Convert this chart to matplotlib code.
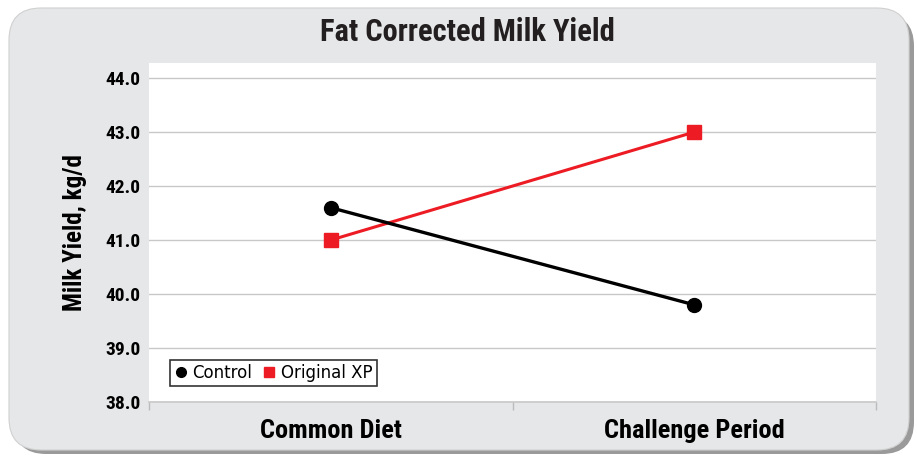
import matplotlib
matplotlib.use("Agg")
import matplotlib.pyplot as plt
from matplotlib.patches import FancyBboxPatch
from matplotlib.lines import Line2D

categories = ["Common Diet", "Challenge Period"]
control = [41.6, 39.8]
original_xp = [41.0, 43.0]
yticks = [38.0, 39.0, 40.0, 41.0, 42.0, 43.0, 44.0]

FONT = ["Liberation Sans Narrow", "Roboto Condensed", "DejaVu Sans"]
plt.rcParams['font.family'] = FONT

fig = plt.figure(figsize=(9.17, 4.58), dpi=100)
fig.patch.set_facecolor("white")

W, H = 917, 458
# shadow
sh = FancyBboxPatch((14 / W, 4 / H), 900 / W, 440 / H,
                    boxstyle="round,pad=0,rounding_size=0.035",
                    transform=fig.transFigure, facecolor="#9a9a9a", edgecolor="none",
                    zorder=0, mutation_aspect=W / H)
fig.patches.append(sh)
box = FancyBboxPatch((9 / W, 8 / H), 900 / W, 442 / H,
                     boxstyle="round,pad=0,rounding_size=0.035",
                     transform=fig.transFigure, facecolor="#e6e7e8", edgecolor="#d0d0d0",
                     linewidth=0.8, zorder=1, mutation_aspect=W / H)
fig.patches.append(box)

ax = fig.add_axes([149 / W, 56 / H, 727 / W, 339 / H])
ax.set_facecolor("white")
ax.set_zorder(2)

x = list(range(len(categories)))
ax.plot(x, original_xp, color="#ed1c24", lw=2.2, marker="s", ms=10, zorder=3,
        label="Original XP")
ax.plot(x, control, color="black", lw=2.4, marker="o", ms=10, zorder=4,
        label="Control")

ax.set_xlim(-0.5, 1.5)
ax.set_ylim(38, 44.28)
ax.set_yticks(yticks)
ax.set_yticklabels([f"{v:.1f}" for v in yticks], fontsize=14, fontweight="bold",
                   fontstretch="condensed")
ax.yaxis.grid(True, color="#c8c8c8", lw=1)
ax.set_axisbelow(True)
ax.tick_params(axis="y", length=0, pad=6)

ax.set_xticks(x)
ax.set_xticklabels(categories, fontsize=19, fontweight="bold")
ax.set_xticks([-0.5, 0.5, 1.5], minor=True)
ax.tick_params(axis="x", which="major", length=0, pad=12)
ax.tick_params(axis="x", which="minor", length=6, color="#bbbbbb", width=1)

for s in ["top", "right", "left"]:
    ax.spines[s].set_visible(False)
ax.spines["bottom"].set_color("#c8c8c8")
ax.spines["bottom"].set_linewidth(1.2)

ax.set_ylabel("Milk Yield, kg/d", fontsize=18, fontweight="bold", labelpad=13)

fig.text(467 / W, 1 - 32 / H, "Fat Corrected Milk Yield", ha="center", va="center",
         fontsize=22, fontweight="bold", color="#231f20", zorder=5)

handles = [Line2D([], [], color="black", marker="o", ls="none", ms=7),
           Line2D([], [], color="#ed1c24", marker="s", ls="none", ms=7)]
leg = ax.legend(handles, ["Control", "Original XP"], loc="lower left",
                bbox_to_anchor=(21 / 727, 16 / 339), ncol=2, fontsize=12,
                frameon=True, fancybox=False, edgecolor="black", handlelength=0.8,
                handletextpad=0.3, columnspacing=0.6, borderpad=0.25,
                borderaxespad=0)
leg.get_frame().set_linewidth(1.2)
for t in leg.get_texts():
    t.set_fontfamily(["DejaVu Sans"])
    t.set_fontsize(12)

fig.savefig("out.png", dpi=100, facecolor="white")
